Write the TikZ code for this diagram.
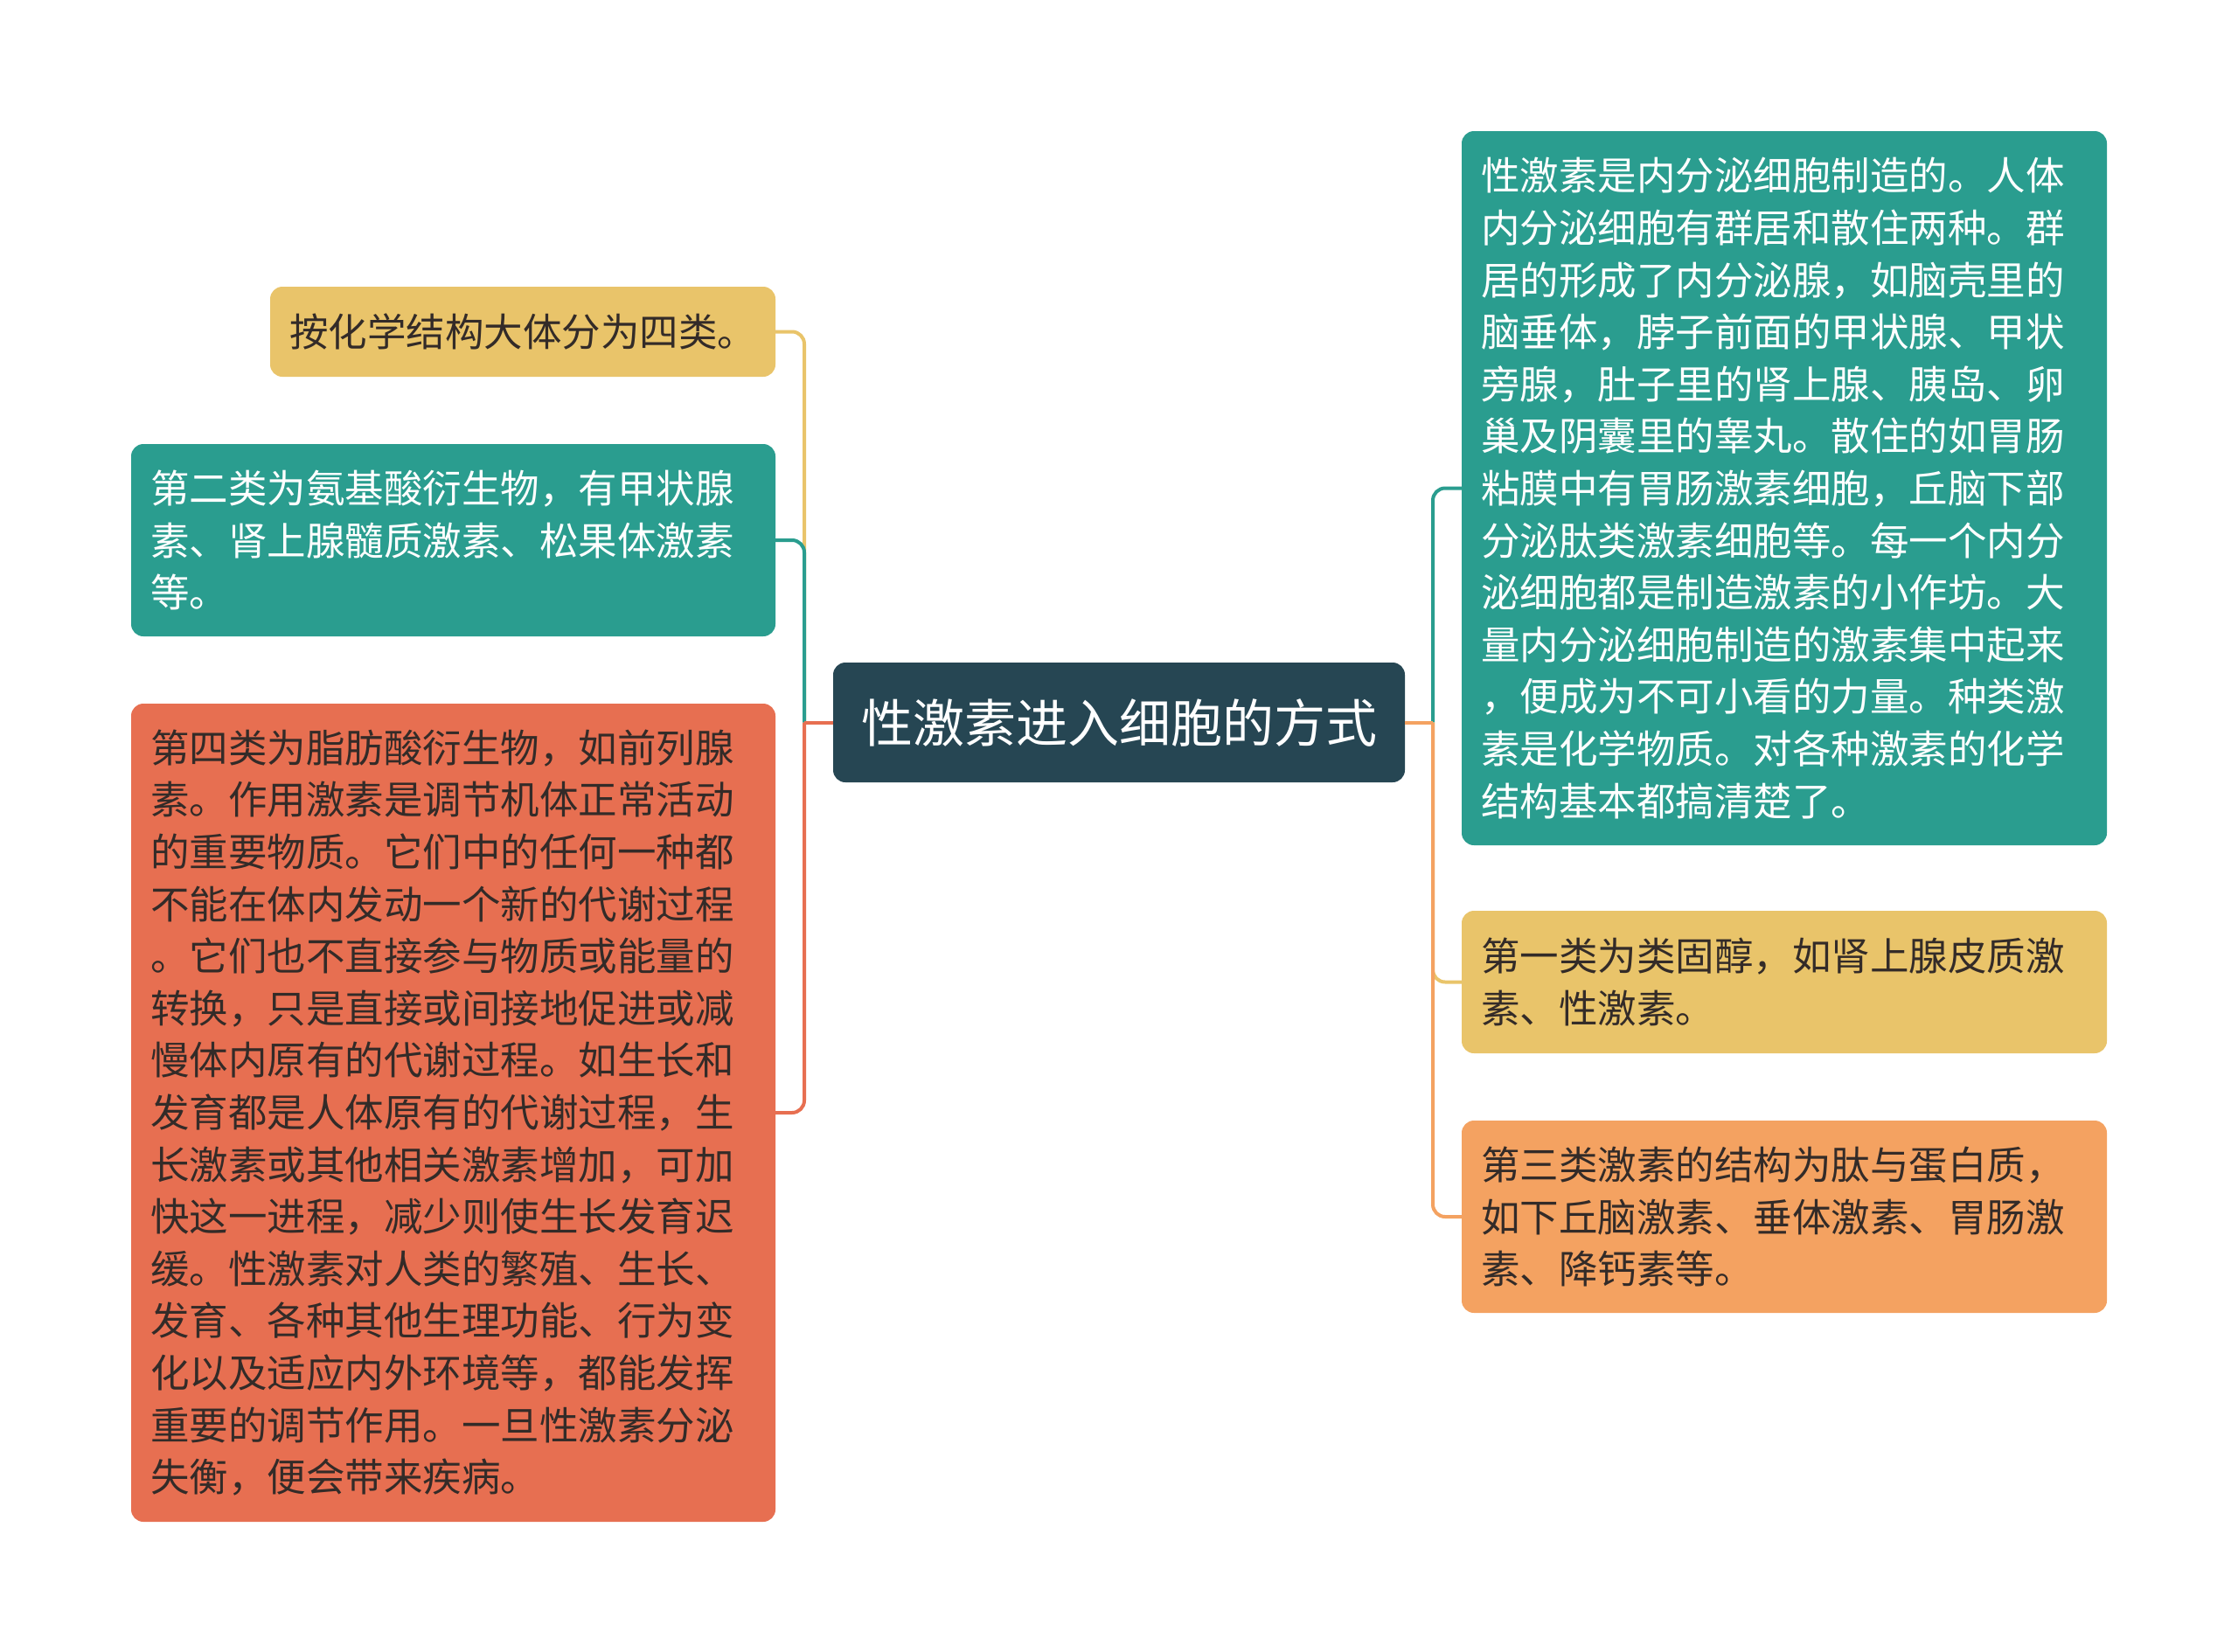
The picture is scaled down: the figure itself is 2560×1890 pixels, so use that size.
\documentclass[tikz,border=0pt]{standalone}
\usepackage{fontspec}
\newfontfamily\cjk{Noto Sans CJK SC}
\definecolor{cdark}{HTML}{264653}
\definecolor{cteal}{HTML}{2A9D8F}
\definecolor{cyellow}{HTML}{E9C46A}
\definecolor{corange}{HTML}{F4A261}
\definecolor{cred}{HTML}{E76F51}
\definecolor{ctext}{HTML}{332B28}
\begin{document}
\begin{tikzpicture}[x=1pt,y=-1pt,
  box/.style={rounded corners=14pt, inner xsep=22pt, inner ysep=0pt, align=left,
    font=\cjk\fontsize{44.5pt}{59.6pt}\selectfont, anchor=center},
  conn/.style={line width=4pt},
  branch/.style={conn, rounded corners=14pt}]
\useasboundingbox (0,0) rectangle (2560,1890);

% central node
\node[fill=cdark, rounded corners=14pt, minimum width=654pt, minimum height=137pt,
  inner sep=0pt, text=white, font=\cjk\fontsize{59pt}{70pt}\selectfont] (C) at (1280,826.5) {性激素进入细胞的方式};

% left nodes
\node[box, fill=cyellow, text=ctext, text width=534pt, minimum height=103pt] (yL) at (598,379.5)
  {按化学结构大体分为四类。};
\node[box, fill=cteal, text=white, text width=693pt, minimum height=220pt] (tL) at (518.5,618)
  {第二类为氨基酸衍生物，有甲状腺\\素、肾上腺髓质激素、松果体激素\\等。};
\node[box, fill=cred, text=ctext, text width=693pt, minimum height=936pt] (rL) at (518.5,1273)
  {第四类为脂肪酸衍生物，如前列腺\\素。作用激素是调节机体正常活动\\的重要物质。它们中的任何一种都\\不能在体内发动一个新的代谢过程\\。它们也不直接参与物质或能量的\\转换，只是直接或间接地促进或减\\慢体内原有的代谢过程。如生长和\\发育都是人体原有的代谢过程，生\\长激素或其他相关激素增加，可加\\快这一进程，减少则使生长发育迟\\缓。性激素对人类的繁殖、生长、\\发育、各种其他生理功能、行为变\\化以及适应内外环境等，都能发挥\\重要的调节作用。一旦性激素分泌\\失衡，便会带来疾病。};

% right nodes
\node[box, fill=cteal, text=white, text width=694pt, minimum height=817pt] (tR) at (2041,558.5)
  {性激素是内分泌细胞制造的。人体\\内分泌细胞有群居和散住两种。群\\居的形成了内分泌腺，如脑壳里的\\脑垂体，脖子前面的甲状腺、甲状\\旁腺，肚子里的肾上腺、胰岛、卵\\巢及阴囊里的睾丸。散住的如胃肠\\粘膜中有胃肠激素细胞，丘脑下部\\分泌肽类激素细胞等。每一个内分\\泌细胞都是制造激素的小作坊。大\\量内分泌细胞制造的激素集中起来\\，便成为不可小看的力量。种类激\\素是化学物质。对各种激素的化学\\结构基本都搞清楚了。};
\node[box, fill=cyellow, text=ctext, text width=694pt, minimum height=163pt] (yR) at (2041,1123.5)
  {第一类为类固醇，如肾上腺皮质激\\素、性激素。};
\node[box, fill=corange, text=ctext, text width=694pt, minimum height=220pt] (oR) at (2041,1392)
  {第三类激素的结构为肽与蛋白质，\\如下丘脑激素、垂体激素、胃肠激\\素、降钙素等。};

% junctions
\coordinate (lt) at (920,826.5);
\coordinate (rt) at (1639,826.5);

% left connectors
\draw[branch, cyellow] (lt) |- (yL.east);
\draw[branch, cteal] (lt) |- (tL.east);
\draw[branch, cred] (lt) |- (rL.east);
\draw[conn, cred] (C.west) -- (lt);

% right connectors
\draw[branch, cteal] (rt) |- (tR.west);
\draw[branch, cyellow] (rt) |- (yR.west);
\draw[branch, corange] (rt) |- (oR.west);
\draw[conn, corange] (C.east) -- (rt);
\end{tikzpicture}
\end{document}
